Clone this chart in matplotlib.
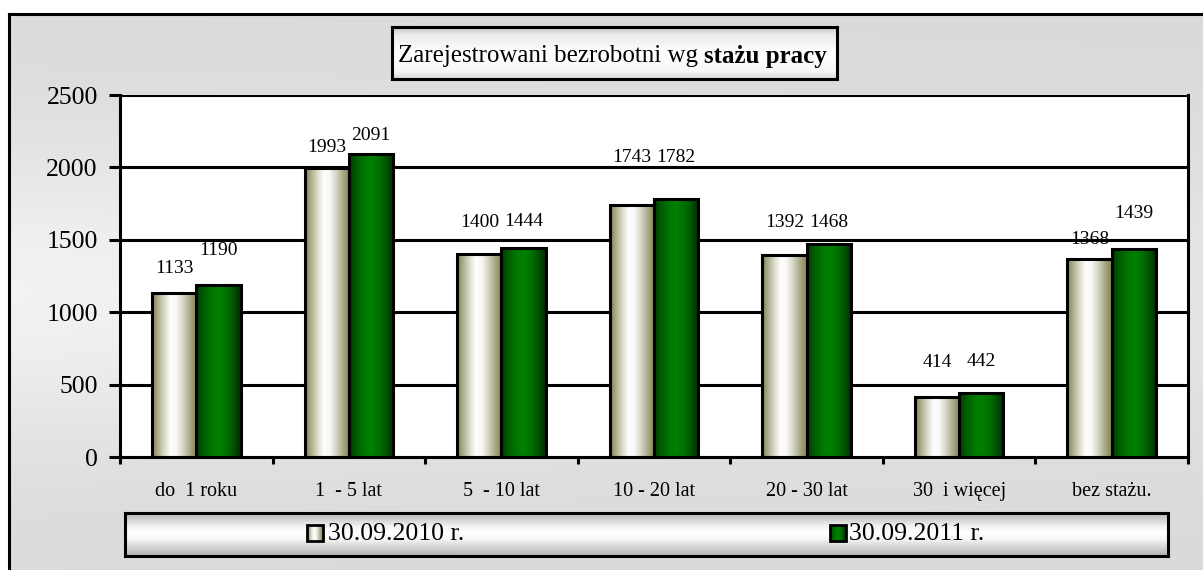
import numpy as np
import matplotlib
matplotlib.use("Agg")
import matplotlib.pyplot as plt
from matplotlib.colors import LinearSegmentedColormap
from matplotlib.patches import Rectangle

# ---- data ----
categories = ["do  1 roku", "1  - 5 lat", "5  - 10 lat", "10 - 20 lat",
              "20 - 30 lat", "30  i więcej", "bez stażu."]
values_2010 = [1133, 1993, 1400, 1743, 1392, 414, 1368]
values_2011 = [1190, 2091, 1444, 1782, 1468, 442, 1439]
series_labels = ["30.09.2010 r.", "30.09.2011 r."]
yticks = [0, 500, 1000, 1500, 2000, 2500]
title_regular = "Zarejestrowani bezrobotni wg "
title_bold = "stażu pracy"

# label offsets above bar tops (pixels), as placed in the original
label_off_2010 = [24, 21, 32, 47, 33, 35, 19]
label_off_2011 = [34, 19, 26, 41, 22, 31, 35]

plt.rcParams['font.family'] = ['Liberation Serif', 'DejaVu Serif']

W, H = 1203, 570
fig = plt.figure(figsize=(W / 100, H / 100), dpi=100)
fig.patch.set_facecolor('white')

# ---- background with gradient and frame ----
bg = fig.add_axes([0, 0, 1, 1])
bg.set_xlim(0, W)
bg.set_ylim(H, 0)
bg.axis('off')
yy, xx = np.mgrid[0:1:200j, 0:1:300j]
fy = np.exp(-((yy - 0.5) / 0.28) ** 2)
gx = 1.0 - 0.55 * xx
light = 0.855 + 0.095 * fy * gx
bg.imshow(np.dstack([light, light, light]), extent=[9, W, H, 14],
          aspect='auto', interpolation='bilinear', zorder=0)
bg.plot([9, 9], [H + 5, 14], color='black', lw=2.2, zorder=1, solid_capstyle='projecting')
bg.plot([9, W + 5], [14, 14], color='black', lw=2.2, zorder=1, solid_capstyle='projecting')

# ---- colormaps for cylinder-like bars ----
cm_white = LinearSegmentedColormap.from_list(
    'w', [(0.0, '#7f7f4a'), (0.12, '#a9a985'), (0.28, '#dcdccc'), (0.42, '#ffffff'),
          (0.55, '#f8f8f3'), (0.70, '#d3d3c3'), (0.85, '#a8a886'), (1.0, '#85854f')])
cm_green = LinearSegmentedColormap.from_list(
    'g', [(0.0, '#003800'), (0.15, '#005a00'), (0.35, '#007800'), (0.5, '#008000'),
          (0.68, '#007000'), (0.85, '#004f00'), (1.0, '#002a00')])
grad = np.linspace(0, 1, 256)[None, :]

# ---- main axes ----
ax = fig.add_axes([120 / W, 1 - 457 / H, 1068 / W, 362 / H])
ax.set_facecolor('white')
x = np.arange(len(categories))
w = 0.29
bars1 = ax.bar(x - w / 2, values_2010, w, facecolor='none', edgecolor='black', lw=2.2, zorder=4)
bars2 = ax.bar(x + w / 2, values_2011, w, facecolor='none', edgecolor='black', lw=2.2, zorder=4)

for bars, cmap in ((bars1, cm_white), (bars2, cm_green)):
    for b in bars:
        x0, y0 = b.get_x(), b.get_y()
        im = ax.imshow(grad, cmap=cmap, extent=[x0, x0 + b.get_width(), y0, y0 + b.get_height()],
                       aspect='auto', interpolation='bilinear', zorder=3)
        im.set_clip_path(b)

for bars, vals, offs in ((bars1, values_2010, label_off_2010), (bars2, values_2011, label_off_2011)):
    for b, v, o in zip(bars, vals, offs):
        ax.annotate(str(v), (b.get_x() + b.get_width() / 2, b.get_height()),
                    xytext=(0, o), textcoords='offset pixels', ha='center', va='center',
                    fontsize=14, color='black', zorder=5)

ax.set_xlim(-0.5, len(categories) - 0.5)
ax.set_ylim(0, 2500)
ax.set_yticks(yticks)
ax.set_yticklabels([str(t) for t in yticks], fontsize=18.5)
ax.yaxis.grid(True, color='black', lw=2.2, zorder=1)
ax.set_axisbelow(True)
ax.tick_params(axis='y', length=8, width=2.2, pad=8, direction='out')

ax.set_xticks(np.arange(-0.5, len(categories), 1.0))
ax.set_xticklabels([])
ax.set_xticks(x, minor=True)
ax.set_xticklabels(categories, minor=True, fontsize=14.5)
ax.tick_params(axis='x', which='major', length=5, width=2.2, direction='out')
ax.tick_params(axis='x', which='minor', length=0, pad=18)
for s in ax.spines.values():
    s.set_linewidth(2.2)
    s.set_color('black')
    s.set_zorder(6)
ax.spines['top'].set_visible(False)

# ---- title box ----
tax = fig.add_axes([392 / W, 1 - 79 / H, 445 / W, 52 / H])
tax.set_xlim(0, 1)
tax.set_ylim(0, 1)
tg = np.linspace(0, 1, 100)[:, None]
tcol = np.interp(tg, [0, 0.15, 0.5, 0.85, 1.0], [0.78, 0.92, 1.0, 0.97, 0.85])
tax.imshow(np.dstack([tcol, tcol, tcol]), extent=[0, 1, 0, 1], aspect='auto', origin='upper')
tax.set_xticks([])
tax.set_yticks([])
for s in tax.spines.values():
    s.set_linewidth(2.2)

fig.canvas.draw()
renderer = fig.canvas.get_renderer()
t1 = fig.text(398 / W, 1 - 56 / H, title_regular, fontsize=18, ha='left', va='center')
bb = t1.get_window_extent(renderer)
fig.text(bb.x1 / W, 1 - 56 / H, title_bold, fontsize=18, fontweight='bold', ha='left', va='center')

# ---- legend box ----
lax = fig.add_axes([125 / W, 1 - 556 / H, 1043 / W, 43 / H])
lax.set_xlim(125, 1168)
lax.set_ylim(556, 513)
lg = np.linspace(0, 1, 100)[:, None]
lcol = np.interp(lg, [0, 0.12, 0.3, 0.45, 0.6, 0.75, 0.88, 1.0],
                 [0.72, 0.80, 0.95, 1.0, 0.97, 0.86, 0.78, 0.70])
lax.imshow(np.dstack([lcol, lcol, lcol]), extent=[125, 1168, 556, 513], aspect='auto', origin='upper')
lax.set_xticks([])
lax.set_yticks([])
for s in lax.spines.values():
    s.set_linewidth(2.2)

for (mx, tx), lab, cmap in (((307, 328), series_labels[0], cm_white),
                             ((830, 849), series_labels[1], cm_green)):
    r = Rectangle((mx, 525), 16, 16, facecolor='none', edgecolor='black', lw=2, zorder=4)
    lax.add_patch(r)
    im = lax.imshow(grad, cmap=cmap, extent=[mx, mx + 16, 541, 525], aspect='auto', zorder=3)
    im.set_clip_path(r)
    lax.text(tx, 534, lab, fontsize=18.5, ha='left', va='center')
lax.set_xlim(125, 1168)
lax.set_ylim(556, 513)

fig.savefig('out.png', dpi=100)
